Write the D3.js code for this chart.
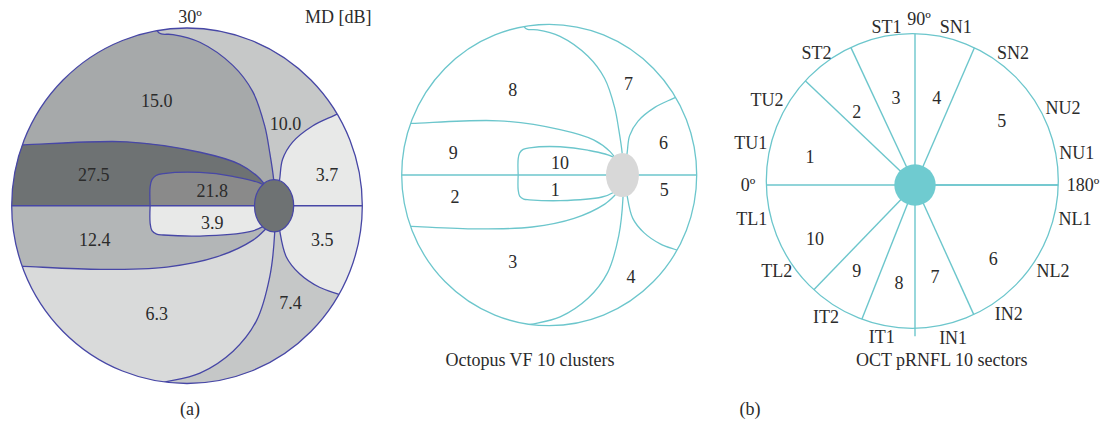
<!DOCTYPE html>
<html><head><meta charset="utf-8">
<script src="https://cdn.jsdelivr.net/npm/d3@7"></script>
<style>
body{margin:0;background:#fff}
text{font-family:"Liberation Serif","DejaVu Serif",serif;font-size:18px;fill:#2b2b2b}
</style>
</head><body>
<svg id="c" width="1100" height="423"></svg>
<script>
// ---------------- DATA ----------------
const clusters = [1, 2, 3, 4, 5, 6, 7, 8, 9, 10];
const mdValues = [3.9, 12.4, 6.3, 7.4, 3.5, 3.7, 10.0, 15.0, 27.5, 21.8];
const mdColors = ["#e8e9e8", "#b3b6b7", "#d9dada", "#c5c7c7", "#e8e9e8",
                  "#e8e9e8", "#c6c8c8", "#a6a9aa", "#6e7273", "#8a8a8a"];
const sectors = [1, 2, 3, 4, 5, 6, 7, 8, 9, 10];
const sectorBounds = [0, 43.5, 65, 90, 113.4, 180, 245.6, 270, 291.6, 314];   // degrees, 0 = temporal
const rimLabels = ["0º", "TU1", "TU2", "ST2", "ST1", "90º", "SN1", "SN2", "NU2", "NU1",
                   "180º", "NL1", "NL2", "IN2", "IN1", "IT1", "IT2", "TL2", "TL1"];
const rimAngles = [0, 14.3, 29.9, 53.3, 79.8, 91.4, 104.5, 126.6, 152.5, 168.8,
                   180, 192, 211.8, 234, 256, 282.4, 304, 328.2, 348.2];

// ---------------- LAYOUT ----------------
const rimDist = [167, 169.6, 170.7, 164.6, 160.5, 166, 163, 164.4, 166.8, 164.8,
                 168, 163.6, 162.4, 159.6, 157.6, 155.3, 159.2, 162.7, 166.8];
const sectorLabelAngle = [14.9, 51.4, 77.7, 104, 143.4, 223.4, 257.7, 279.3, 304.2, 331.6];
const sectorLabelDist = [108.7, 93.4, 89, 89.7, 108, 107.7, 94.1, 99, 103.6, 113.6];

// visual field boundary curves in degrees (radius 30)
const bA = [[-5.3,31],[-5.0,29.4],[-4.4,29.0],[-2.4,28.9],[2.2,27.6],[7.84,23.69],[11.25,19.26],[13.3,13.47],[14.15,9.03],[14.83,4.43],[15,1]];
const bB = [[27,16.3],[25.74,15.51],[21.48,13.47],[18.07,10.74],[16.36,7.84],[15.85,4.43],[15.3,1]];
const bC = [[-29.5,10.3],[-27.9,10.28],[-10.28,10.79],[2.22,9.03],[9.03,6.99],[12.44,4.6],[13.5,3.2]];
const bDu = [[13.5,2.8],[12.95,3.58],[7.84,4.94],[2.22,5.62],[-4.0,5.42],[-5.3,5.1],[-6.0,4.4],[-6.31,3.2],[-6.31,0]];
const bDl = [[-6.31,0],[-6.31,-2.95],[-6.0,-4.2],[-5.2,-4.8],[-4.04,-4.94],[2.22,-5.11],[10.74,-4.38],[12.95,-3.53],[13.8,-2.8]];
const bE = [[-29.5,-10.2],[-28.0,-10.23],[-14.83,-10.74],[-3.46,-10.35],[5.06,-8.64],[11.30,-5.80],[13.58,-3.80],[14.3,-3]];
const bF = [[15,-1],[15.0,-4.65],[14.15,-12.05],[11.88,-19.43],[7.89,-24.54],[2.22,-28.24],[-3.5,-29.7],[-4.72,-29.95],[-5.1,-30.3],[-5.3,-31]];
const bG = [[15.6,-2],[15.85,-4.09],[17.0,-8.64],[19.26,-11.47],[22.67,-13.76],[26.08,-15.0],[27.5,-15.6]];
const disc = {x: 14.9, y: 0, rx: 3.35, ry: 4.4};

const labelPosA = [[4.31,-2.85],[-15.79,-5.79],[-5.17,-18.29],[17.73,-16.3],[23.13,-5.79],
                   [23.98,5.28],[16.87,13.93],[-5.17,17.78],[-15.96,5.28],[4.31,2.61]];
const labelPosB = [[1.21,-2.88],[-19.16,-4.37],[-7.39,-17.32],[16.64,-20.33],[23.39,-2.88],
                   [23.25,6.51],[16.11,18.25],[-7.39,16.91],[-19.49,4.37],[2.21,2.35]];

const svg = d3.select("#c");
const fmt = d3.format(".1f");

function drawVF(id, xRange, yRange, opt) {
  const xs = d3.scaleLinear().domain([-30, 30]).range(xRange);
  const ys = d3.scaleLinear().domain([-30, 30]).range(yRange);
  const cx = xs(0), cy = ys(0), rx = Math.abs(xs(30) - cx), ry = Math.abs(ys(30) - cy);
  const line = d3.line().x(d => xs(d[0])).y(d => ys(d[1])).curve(d3.curveCatmullRom.alpha(0.5));
  const L = pts => pts.map(p => "L" + xs(p[0]) + "," + ys(p[1])).join("");
  const rev = a => a.slice().reverse();
  const g = svg.append("g");
  g.append("clipPath").attr("id", id).append("ellipse")
    .attr("cx", cx).attr("cy", cy).attr("rx", rx).attr("ry", ry);
  const inner = g.append("g").attr("clip-path", `url(#${id})`);
  const col = c => opt.fill ? mdColors[clusters.indexOf(c)] : "none";
  if (opt.fill) {
    const regions = [
      [8, "M" + xs(-40) + "," + ys(0) + L([[40,0],[40,40],[-40,40]]) + "Z"],
      [7, line(bA) + L([[15,0],[40,0],[40,40],[-5.3,40]]) + "Z"],
      [6, line(bB) + L([[15.3,0],[40,0],[40,16.3]]) + "Z"],
      [9, line(bC) + L([[15,0],[-40,0],[-40,10.3]]) + "Z"],
      [3, "M" + xs(-40) + "," + ys(0) + L([[40,0],[40,-40],[-40,-40]]) + "Z"],
      [2, line(rev(bE)) + L([[-40,-10.2],[-40,0],[15,0]]) + "Z"],
      [4, line(bF) + L([[-5.3,-40],[40,-40],[40,-15.6]]) + line(rev(bG)).replace(/^M/, "L") + "Z"],
      [5, line(bG) + L([[40,-15.6],[40,0],[15.3,0]]) + "Z"],
      [10, line(bDu) + L([[15,0]]) + "Z"],
      [1, line(bDl) + L([[15,0]]) + "Z"]
    ];
    inner.selectAll("path.reg").data(regions).join("path").attr("class", "reg")
      .attr("d", d => d[1]).attr("fill", d => col(d[0]));
  }
  inner.selectAll("path.bd").data([bA, bB, bC, bDu, bDl, bE, bF, bG]).join("path").attr("class", "bd")
    .attr("d", d => line(d)).attr("fill", "none").attr("stroke", opt.stroke).attr("stroke-width", 1.3);
  inner.append("line").attr("x1", xs(-31)).attr("x2", xs(31)).attr("y1", cy).attr("y2", cy)
    .attr("stroke", opt.stroke).attr("stroke-width", 1.3);
  g.append("ellipse").attr("cx", cx).attr("cy", cy).attr("rx", rx).attr("ry", ry)
    .attr("fill", "none").attr("stroke", opt.stroke).attr("stroke-width", 1.3);
  g.append("ellipse").attr("cx", xs(disc.x)).attr("cy", ys(disc.y))
    .attr("rx", xs(disc.rx) - xs(0)).attr("ry", ys(0) - ys(disc.ry))
    .attr("fill", opt.disc).attr("stroke", opt.discStroke || "none").attr("stroke-width", 1.3);
  g.selectAll("text.lab").data(clusters).join("text").attr("class", "lab")
    .attr("x", (d, i) => xs(opt.pos[i][0])).attr("y", (d, i) => ys(opt.pos[i][1]))
    .attr("dy", "0.35em").attr("text-anchor", "middle")
    .text((d, i) => opt.label(d, i));
}

drawVF("clipA", [11.7, 362.3], [383.5, 28], {
  fill: true, stroke: "#4747a6", disc: "#6e7273", discStroke: "#4747a6",
  pos: labelPosA, label: (d, i) => fmt(mdValues[i])
});
drawVF("clipB", [401.7, 696.7], [325.7, 24.3], {
  fill: false, stroke: "#6cc6cc", disc: "#d8d8d8",
  pos: labelPosB, label: d => String(d)
});

// ---------------- OCT sectors ----------------
const teal = "#6cc6cc";
const lc = {x: 915, y: 185};                   // sector lines centre
const ec = {x: 912.3, y: 181, rx: 146, ry: 147.3}; // outer circle
const ang = d3.scaleLinear().domain([0, 360]).range([0, 2 * Math.PI]);
const dir = a => [-Math.cos(ang(a)), -Math.sin(ang(a))];
function rayHit(a) {
  const [dx, dy] = dir(a);
  const ox = (lc.x - ec.x) / ec.rx, oy = (lc.y - ec.y) / ec.ry, ux = dx / ec.rx, uy = dy / ec.ry;
  const A = ux * ux + uy * uy, B = 2 * (ox * ux + oy * uy), C = ox * ox + oy * oy - 1;
  const s = (-B + Math.sqrt(B * B - 4 * A * C)) / (2 * A);
  return [lc.x + s * dx, lc.y + s * dy];
}
const gR = svg.append("g");
gR.append("ellipse").attr("cx", ec.x).attr("cy", ec.y).attr("rx", ec.rx).attr("ry", ec.ry)
  .attr("fill", "none").attr("stroke", teal).attr("stroke-width", 1.3);
gR.selectAll("line.sec").data(sectorBounds.concat([180])).join("line").attr("class", "sec")
  .attr("x1", lc.x).attr("y1", lc.y)
  .attr("x2", d => rayHit(d)[0])
  .attr("y2", d => d === 270 ? rayHit(d)[1] + 8 : rayHit(d)[1])
  .attr("stroke", teal).attr("stroke-width", 1.4);
gR.append("circle").attr("cx", lc.x).attr("cy", lc.y).attr("r", 20.7).attr("fill", "#6fcbd0");
gR.selectAll("text.sn").data(sectors).join("text").attr("class", "sn")
  .attr("x", (d, i) => lc.x + sectorLabelDist[i] * dir(sectorLabelAngle[i])[0])
  .attr("y", (d, i) => lc.y + sectorLabelDist[i] * dir(sectorLabelAngle[i])[1])
  .attr("dy", "0.35em").attr("text-anchor", "middle").text(d => d);
gR.selectAll("text.rim").data(rimLabels).join("text").attr("class", "rim")
  .attr("x", (d, i) => lc.x + rimDist[i] * dir(rimAngles[i])[0])
  .attr("y", (d, i) => lc.y + rimDist[i] * dir(rimAngles[i])[1])
  .attr("dy", "0.35em").attr("text-anchor", "middle").text(d => d);

// ---------------- captions ----------------
const captions = [
  ["30º", 190, 16.7], ["MD [dB]", 338.3, 16.7], ["(a)", 190, 408.3],
  ["Octopus VF 10 clusters", 530, 360], ["OCT pRNFL 10 sectors", 941.7, 360], ["(b)", 750, 409]
];
svg.selectAll("text.cap").data(captions).join("text").attr("class", "cap")
  .attr("x", d => d[1]).attr("y", d => d[2]).attr("dy", "0.35em").attr("text-anchor", "middle")
  .text(d => d[0]);
</script>
</body></html>
